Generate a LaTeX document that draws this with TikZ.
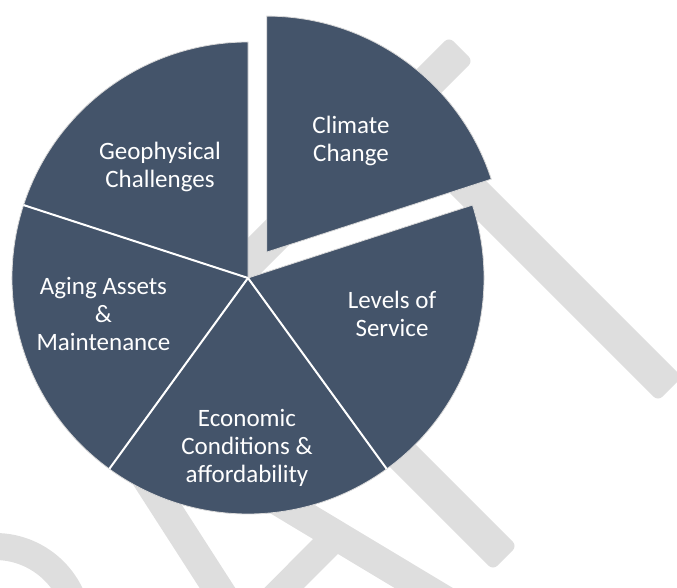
\documentclass[tikz,border=0pt]{standalone}
\usepackage{fontspec}
\setmainfont{Carlito}
\usepackage{tikz}
\usetikzlibrary{calc}

\definecolor{slate}{HTML}{44546A}
\definecolor{wmgray}{HTML}{DEDEDE}

% one straight stroke of the watermark letters: half width, start, end
\newcommand{\wmbar}[3]{\fill[wmgray, rounded corners=6pt] ($#2!#1!90:#3$) -- ($#3!#1!-90:#2$) -- ($#3!#1!90:#2$) -- ($#2!#1!-90:#3$) -- cycle;}

\begin{document}
\begin{tikzpicture}[x=1pt, y=1pt,
  wedge/.style={fill=slate, draw=black!15, line width=0.8pt},
  spoke/.style={white, line width=2pt},
  wedgetext/.style={text=white, align=center, font=\fontsize{25}{28}\selectfont}]
\useasboundingbox (0,0) rectangle (677,587);

% watermark behind the pie
\draw[wmgray, line width=27pt] (-5,-43) circle (83.5);
\wmbar{15pt}{(87.5,201)}{(238,-33)}
\wmbar{15pt}{(87.5,201)}{(477,-33)}
\wmbar{14pt}{(336.6,51.6)}{(243.5,-41.6)}
\wmbar{17pt}{(219.5,314.5)}{(505,29)}
\wmbar{17pt}{(216,293)}{(300,377)}
\wmbar{17pt}{(297,374)}{(461,538)}
\wmbar{17pt}{(395.5,472.5)}{(670,198)}

% pie, with the first piece pulled out
\coordinate (c) at (248,309);
\coordinate (cc) at (266.8,334.9);

\filldraw[wedge] (cc) -- ++(18:236) arc[start angle=18, end angle=90, radius=236] -- cycle;
\filldraw[wedge] (c) -- ++(90:236) arc[start angle=90, end angle=162, radius=236] -- cycle;
\filldraw[wedge] (c) -- ++(162:236) arc[start angle=162, end angle=234, radius=236] -- cycle;
\filldraw[wedge] (c) -- ++(234:236) arc[start angle=234, end angle=306, radius=236] -- cycle;
\filldraw[wedge] (c) -- ++(306:236) arc[start angle=306, end angle=378, radius=236] -- cycle;

\draw[spoke] (c) -- ++(162:236);
\draw[spoke] (c) -- ++(234:236);
\draw[spoke] (c) -- ++(306:236);

\node[wedgetext] (climate) at (351,446) {Climate\\Change};
\node[wedgetext] (geo) at (160,420) {Geophysical\\Challenges};
\node[wedgetext] (aging) at (103.5,273) {Aging Assets\\\&\\Maintenance};
\node[wedgetext] (levels) at (392,273) {Levels of\\Service};
\node[wedgetext] (econ) at (247,139) {Economic\\Conditions \&\\affordability};

\end{tikzpicture}
\end{document}
